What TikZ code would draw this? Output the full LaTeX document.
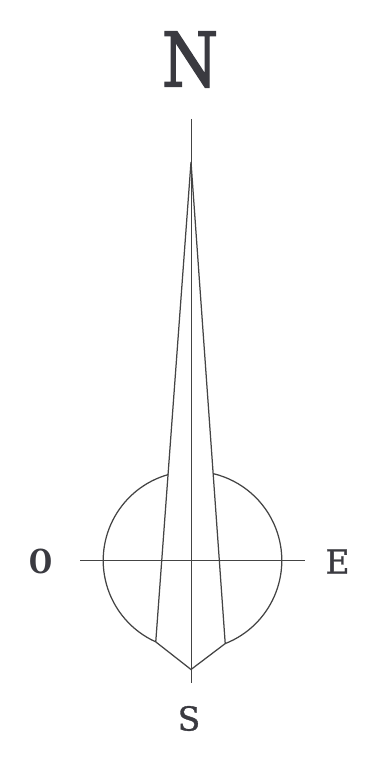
\documentclass[tikz,border=0pt]{standalone}
\usepackage{fontspec}
\setmainfont{DejaVu Serif}
\newfontfamily\heavyfont[FakeBold=2]{DejaVu Serif}
\newfontfamily\midfont[FakeBold=1]{DejaVu Serif}
\newfontfamily\boldfont{DejaVu Serif Bold}
\definecolor{cink}{HTML}{3A3A40}
\definecolor{cline}{HTML}{444444}
\tikzset{
  every picture/.style={x=1pt, y=1pt},
  axis/.style={draw=cline, line width=1pt},
  rule/.style={draw=cline, line width=1.25pt},
  cardinal/.style={text=cink, inner sep=0pt, font=\midfont\fontsize{33}{33}\selectfont},
}

\begin{document}
\begin{tikzpicture}
  \useasboundingbox (0,0) rectangle (382,763);
  \node[cardinal, font=\heavyfont\fontsize{75}{75}\selectfont, xscale=0.86, transform shape] (north) at (190,703.5) {N};
  \node[cardinal, font=\boldfont\fontsize{33}{33}\selectfont, xscale=0.8, transform shape] (west) at (41,201.5) {O};
  \node[cardinal] (east) at (337.5,201.5) {E};
  \node[cardinal] (south) at (189,44.5) {S};
  \coordinate (top) at (191,644);
  \coordinate (bottom) at (191,80);
  \coordinate (left) at (80,202);
  \coordinate (right) at (305,202);
  \coordinate (apex) at (191,601);
  \coordinate (tip) at (191,93.5);
  \coordinate (ctr) at (192.5,202.5);
  \coordinate (lt) at ([shift={(105.6:89.3)}]ctr);
  \coordinate (lb) at ([shift={(245.7:89.3)}]ctr);
  \coordinate (rt) at ([shift={(76.4:89.3)}]ctr);
  \coordinate (rb) at ([shift={(-68.5:89.3)}]ctr);
  \draw[axis] (top) -- (bottom);
  \draw[axis] (left) -- (right);
  \draw[rule] (lb) -- (apex) -- (rb);
  \draw[rule] (lt) arc[start angle=105.6, end angle=245.7, radius=89.3] -- (tip) -- (rb) arc[start angle=-68.5, end angle=76.4, radius=89.3];
\end{tikzpicture}
\end{document}
